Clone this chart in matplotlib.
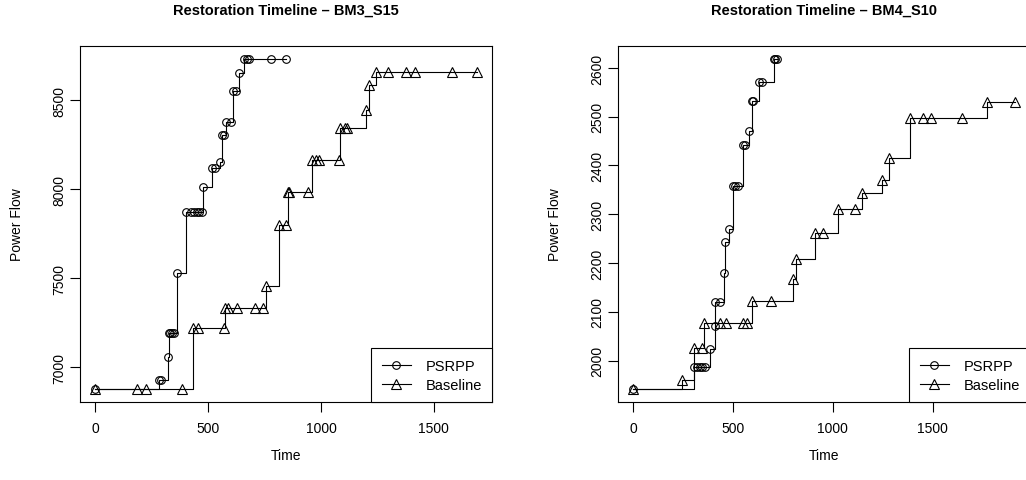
import matplotlib
matplotlib.use("Agg")
import matplotlib.pyplot as plt

plt.rcParams["font.family"] = ["Liberation Sans", "DejaVu Sans"]

# BM3_S15
psrpp_t1 = [0, 281, 293, 322, 325, 333, 341, 350, 361, 402, 424, 438, 450, 461, 472,
            477, 515, 531, 553, 562, 572, 578, 600, 611, 622, 637, 660, 671, 681, 778, 844]
psrpp_p1 = [6879, 6929, 6929, 7060, 7191, 7191, 7191, 7191, 7530, 7874, 7874, 7874, 7874,
            7874, 7874, 8015, 8121, 8121, 8152, 8305, 8305, 8380, 8380, 8554, 8554, 8653,
            8732, 8732, 8732, 8732, 8732]
base_t1 = [0, 187, 224, 385, 432, 457, 570, 573, 589, 626, 707, 745, 756, 812, 844, 856,
           860, 943, 962, 980, 990, 1079, 1083, 1105, 1115, 1198, 1213, 1245, 1297, 1378,
           1417, 1581, 1690]
base_p1 = [6879, 6879, 6879, 6879, 7222, 7222, 7222, 7331, 7331, 7331, 7331, 7331, 7458,
           7801, 7801, 7983, 7983, 7983, 8165, 8165, 8165, 8165, 8346, 8346, 8346, 8447,
           8588, 8661, 8661, 8661, 8661, 8661, 8661]

# BM4_S10
psrpp_t2 = [0, 305, 320, 333, 347, 362, 387, 408, 412, 437, 453, 458, 478, 500, 512, 525,
            552, 558, 578, 593, 600, 628, 647, 705, 712, 718]
psrpp_p2 = [1942, 1986, 1986, 1986, 1986, 1986, 2023, 2070, 2120, 2120, 2179, 2244, 2269,
            2358, 2358, 2358, 2441, 2441, 2470, 2532, 2532, 2572, 2572, 2618, 2618, 2618]
base_t2 = [0, 242, 303, 347, 355, 433, 467, 550, 572, 597, 689, 800, 817, 909, 950, 1025,
           1113, 1147, 1247, 1283, 1387, 1453, 1492, 1650, 1772, 1912]
base_p2 = [1942, 1960, 2025, 2025, 2077, 2077, 2077, 2077, 2077, 2122, 2122, 2168, 2209,
           2262, 2262, 2311, 2311, 2344, 2370, 2416, 2497, 2497, 2497, 2497, 2531, 2531]

panels = [
    ("Restoration Timeline \u2013 BM3_S15", psrpp_t1, psrpp_p1, base_t1, base_p1,
     [7000, 7500, 8000, 8500], 80),
    ("Restoration Timeline \u2013 BM4_S10", psrpp_t2, psrpp_p2, base_t2, base_p2,
     [2000, 2100, 2200, 2300, 2400, 2500, 2600], 618),
]

W, H = 1026, 481
fig = plt.figure(figsize=(W / 100, H / 100), dpi=100)


def r_lim(a, b):
    # R-style 4% padding around the data range
    lo = min(min(a), min(b))
    hi = max(max(a), max(b))
    d = (hi - lo) * 0.04
    return lo - d, hi + d


for title, pt, pp, bt, bp, yticks, left in panels:
    ax = fig.add_axes([left / W, 1 - 403 / H, 412 / W, 356 / H])
    ax.plot(pt, pp, color="black", lw=0.8, drawstyle="steps-post")
    ax.plot(pt, pp, ls="none", marker="o", ms=5.5, mfc="none", mec="black", mew=0.8)
    ax.plot(bt, bp, color="black", lw=0.8, drawstyle="steps-post")
    ax.plot(bt, bp, ls="none", marker="^", ms=6.5, mfc="none", mec="black", mew=0.8)
    ax.set_xlim(r_lim(pt, bt))
    ax.set_ylim(r_lim(pp, bp))
    ax.set_xticks([0, 500, 1000, 1500])
    ax.set_yticks(yticks)
    ax.tick_params(direction="out", length=7, width=0.8, labelsize=10, pad=3)
    ax.tick_params(axis="x", pad=7)
    for lab in ax.get_yticklabels():
        lab.set_rotation(90)
        lab.set_va("center")
    for s in ax.spines.values():
        s.set_linewidth(0.8)
    ax.set_title(title, fontsize=10.5, fontweight="bold", pad=23)
    ax.set_xlabel("Time", fontsize=10, labelpad=9)
    ax.set_ylabel("Power Flow", fontsize=10, labelpad=20)

    h1, = ax.plot([], [], color="black", lw=0.8, marker="o", ms=5.5, mfc="none", mew=0.8)
    h2, = ax.plot([], [], color="black", lw=0.8, marker="^", ms=6.5, mfc="none", mew=0.8)
    leg = ax.legend([h1, h2], ["PSRPP", "Baseline"], loc="lower right", fontsize=10.5,
                    borderaxespad=0, fancybox=False, framealpha=1, edgecolor="black",
                    handlelength=2.0, handletextpad=1.0, labelspacing=0.35, borderpad=0.7)
    leg.get_frame().set_linewidth(0.8)

fig.savefig("out.png", dpi=100)
